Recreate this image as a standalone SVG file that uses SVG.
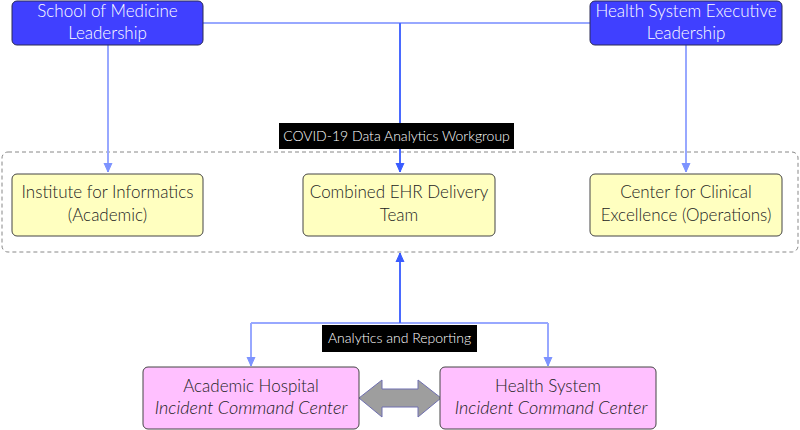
<svg xmlns="http://www.w3.org/2000/svg" width="800" height="430" viewBox="0 0 800 430">
<style>
text{font-family:Lato,"Open Sans","Liberation Sans",sans-serif;text-anchor:middle;font-weight:300}
.top rect{fill:#4040ff;stroke:#2a2a55;stroke-width:1}
.top text{fill:#fff;font-size:17px}
.yel rect{fill:#ffffc0;stroke:#444;stroke-width:1}
.yel text{fill:#222;font-size:17px}
.pink rect{fill:#ffc0ff;stroke:#444;stroke-width:1}
.pink text{fill:#222;font-size:17px}
.pink text.it{font-style:italic;font-size:18px}
.lbl rect{fill:#000}
.lbl text{fill:#fff;font-size:14px}
.lt{stroke:#98a8ff;stroke-width:2;fill:none}
.dk{stroke:#4a6aff;stroke-width:2;fill:none}
</style>
<defs>
<marker id="ah" markerWidth="10" markerHeight="10" refX="9" refY="5" orient="auto" markerUnits="userSpaceOnUse">
<path d="M0,1 L9,5 L0,9 Z" fill="#7d93ff" stroke="#7d93ff" stroke-width="1"/>
</marker>
<marker id="ahd" markerWidth="10" markerHeight="10" refX="9" refY="5" orient="auto" markerUnits="userSpaceOnUse">
<path d="M0,1 L9,5 L0,9 Z" fill="#3a5cff" stroke="#3a5cff" stroke-width="1"/>
</marker>
</defs>
<rect x="2" y="152" width="796" height="100" rx="6" fill="none" stroke="#888" stroke-dasharray="4 3"/>
<g id="connectors">
<path class="lt" d="M203,23 H590"/>
<path class="lt" d="M108,45 V172" marker-end="url(#ah)"/>
<path class="lt" d="M686,45 V172" marker-end="url(#ah)"/>
<path class="dk" d="M400,23 V172" marker-end="url(#ahd)"/>
<path class="lt" d="M251,323 H548"/>
<path class="lt" d="M251,323 V366" marker-end="url(#ah)"/>
<path class="lt" d="M548,323 V366" marker-end="url(#ah)"/>
<path class="dk" d="M400,323 V253" marker-end="url(#ahd)"/>
<path d="M359,398 L382,380 L382,389 L418,389 L418,380 L441,398 L418,417 L418,407 L382,407 L382,417 Z" fill="#9e9e9e" stroke="#6f6fb0" stroke-width="1"/>
</g>
<g id="lbl-covid" class="lbl"><rect x="279" y="123" width="235" height="26"/><text x="396.5" y="141">COVID-19 Data Analytics Workgroup</text></g>
<g id="lbl-analytics" class="lbl"><rect x="322" y="325" width="155" height="27"/><text x="399.5" y="343">Analytics and Reporting</text></g>
<g id="som" class="top"><rect x="12" y="1" width="191" height="44" rx="5"/><text x="107.5" y="17">School of Medicine</text><text x="107.5" y="39">Leadership</text></g>
<g id="hse" class="top"><rect x="590" y="1" width="192" height="44" rx="5"/><text x="686" y="17">Health System Executive</text><text x="686" y="39">Leadership</text></g>
<g id="ifi" class="yel"><rect x="12" y="174" width="191" height="62" rx="5"/><text x="107.5" y="198">Institute for Informatics</text><text x="107.5" y="221">(Academic)</text></g>
<g id="ehr" class="yel"><rect x="303" y="174" width="192" height="62" rx="5"/><text x="399" y="198">Combined EHR Delivery</text><text x="399" y="221">Team</text></g>
<g id="cce" class="yel"><rect x="590" y="174" width="192" height="62" rx="5"/><text x="686" y="198">Center for Clinical</text><text x="686" y="221">Excellence (Operations)</text></g>
<g id="ahicc" class="pink"><rect x="143" y="367" width="216" height="62" rx="5"/><text x="251" y="392">Academic Hospital</text><text class="it" x="251" y="414">Incident Command Center</text></g>
<g id="hsicc" class="pink"><rect x="440" y="367" width="216" height="62" rx="5"/><text x="548" y="392">Health System</text><text class="it" x="551" y="414">Incident Command Center</text></g>
</svg>
